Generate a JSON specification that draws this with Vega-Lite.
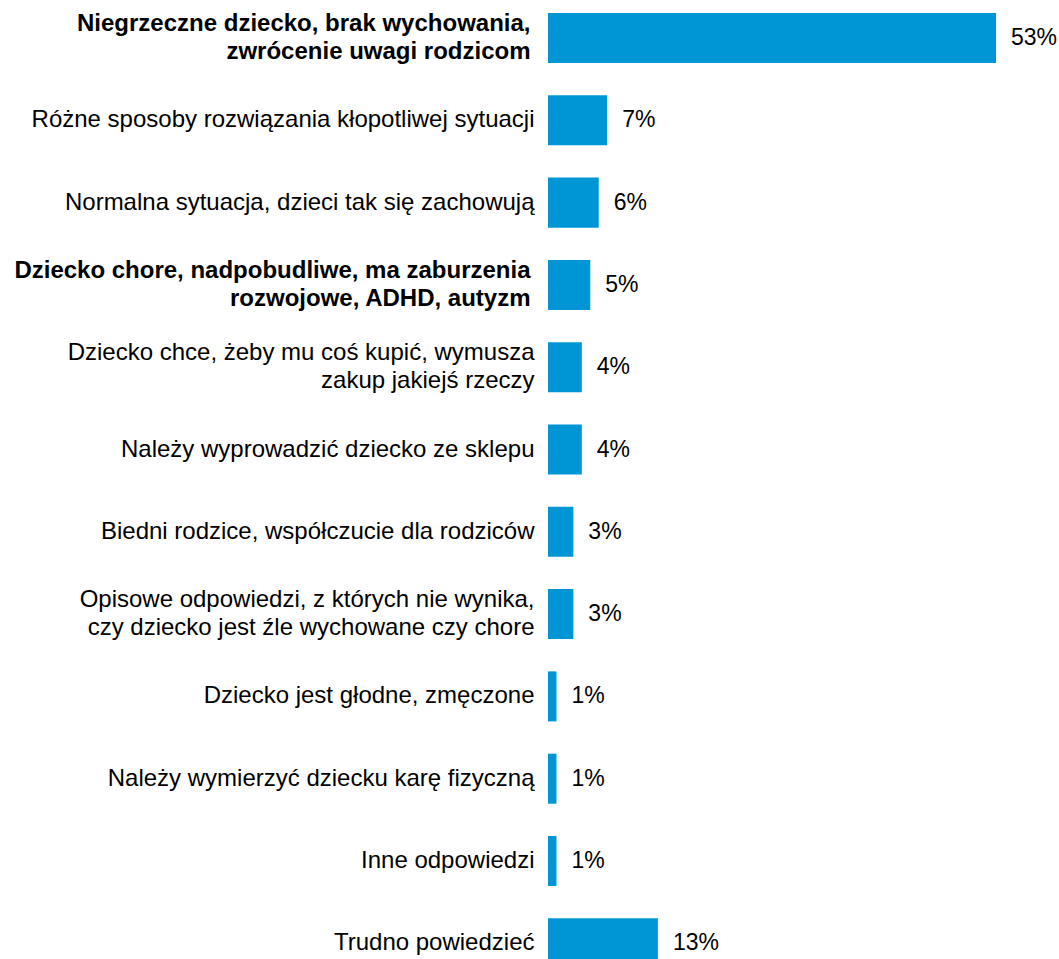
{
  "$schema": "https://vega.github.io/schema/vega-lite/v6.json",
  "width": 448,
  "height": 959,
  "autosize": "none",
  "padding": {"left": 548, "top": 0, "right": 63, "bottom": 0},
  "background": "white",
  "config": {"view": {"stroke": null}, "font": "Liberation Sans"},
  "data": {
    "values": [
      {"category": "Niegrzeczne dziecko, brak wychowania,|zwrócenie uwagi rodzicom", "share": 0.53},
      {"category": "Różne sposoby rozwiązania kłopotliwej sytuacji", "share": 0.07},
      {"category": "Normalna sytuacja, dzieci tak się zachowują", "share": 0.06},
      {"category": "Dziecko chore, nadpobudliwe, ma zaburzenia|rozwojowe, ADHD, autyzm", "share": 0.05},
      {"category": "Dziecko chce, żeby mu coś kupić, wymusza|zakup jakiejś rzeczy", "share": 0.04},
      {"category": "Należy wyprowadzić dziecko ze sklepu", "share": 0.04},
      {"category": "Biedni rodzice, współczucie dla rodziców", "share": 0.03},
      {"category": "Opisowe odpowiedzi, z których nie wynika,|czy dziecko jest źle wychowane czy chore", "share": 0.03},
      {"category": "Dziecko jest głodne, zmęczone", "share": 0.01},
      {"category": "Należy wymierzyć dziecku karę fizyczną", "share": 0.01},
      {"category": "Inne odpowiedzi", "share": 0.01},
      {"category": "Trudno powiedzieć", "share": 0.13}
    ]
  },
  "encoding": {
    "y": {
      "field": "category",
      "type": "nominal",
      "sort": null,
      "scale": {"range": [13, 968.3], "paddingInner": 0.392, "paddingOuter": 0},
      "axis": {
        "title": null,
        "domain": false,
        "ticks": false,
        "grid": false,
        "labelPadding": {
          "condition": {"test": "indexof(datum.value, 'Niegrzeczne') === 0 || indexof(datum.value, 'Dziecko chore') === 0", "value": 18},
          "value": 14
        },
        "labelOffset": {
          "condition": {"test": "indexof(datum.value, '|') >= 0", "value": -14},
          "value": 0
        },
        "labelFontSize": 24,
        "labelFont": "Liberation Sans",
        "labelColor": "#000000",
        "labelLimit": 1000,
        "labelLineHeight": 27.7,
        "labelExpr": "split(datum.label, '|')",
        "labelFontWeight": {
          "condition": {"test": "indexof(datum.value, 'Niegrzeczne') === 0 || indexof(datum.value, 'Dziecko chore') === 0", "value": "bold"},
          "value": "normal"
        }
      }
    },
    "x": {
      "field": "share",
      "type": "quantitative",
      "scale": {"domain": [0, 0.53], "nice": false, "zero": true},
      "axis": null
    }
  },
  "layer": [
    {"mark": {"type": "bar", "color": "#0096D6"}},
    {
      "mark": {"type": "text", "align": "left", "baseline": "middle", "dx": 15, "fontSize": 23, "font": "Liberation Sans", "color": "#000000"},
      "encoding": {"text": {"field": "share", "type": "quantitative", "format": ".0%"}}
    }
  ]
}
